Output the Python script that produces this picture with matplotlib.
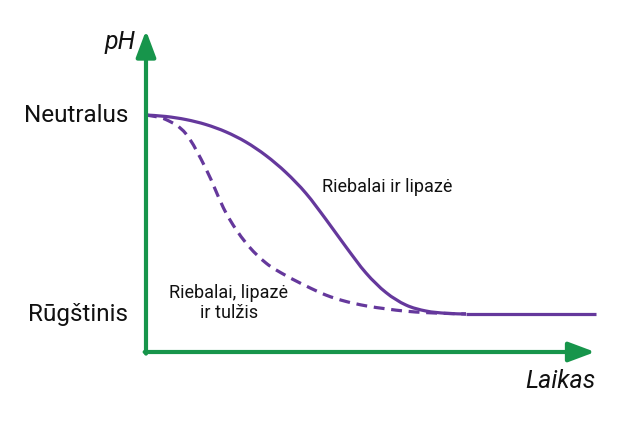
import matplotlib
matplotlib.use("Agg")
import matplotlib.pyplot as plt
from matplotlib.path import Path
from matplotlib.patches import PathPatch

plt.rcParams['font.family'] = ['Roboto', 'DejaVu Sans']

# laikas (sąlyginiai vienetai) ir pH (1 = neutralus, 0 = rūgštinis)
laikas = [0, 0.444, 0.889, 1.333, 1.778, 2.222, 2.667, 3.111, 3.556, 4.0, 4.444, 4.889, 5.333, 5.778, 6.222,
          6.667, 7.111]
ph_lipaze = [1.0, 0.9925, 0.977, 0.952, 0.915, 0.864, 0.796, 0.711, 0.606, 0.475, 0.337, 0.206, 0.108, 0.045,
             0.015, 0.0035, 0.0]
ph_tulzis = [1.0, 0.977, 0.905, 0.729, 0.508, 0.357, 0.256, 0.193, 0.141, 0.095, 0.063, 0.041, 0.026, 0.014,
             0.007, 0.003, 0.0]
laikas_pabaiga = 10  # rūgštinis lygis išlieka iki ašies galo

lygiai = [1, 0]
lygiu_pavadinimai = ["Neutralus", "Rūgštinis"]

zalia = "#17954b"
violetine = "#65389c"


def smooth_path(xs, ys):
    # Catmull-Rom per nuskaitytus taškus -> Bezier kreivė
    pts = list(zip(xs, ys))
    verts = [pts[0]]
    codes = [Path.MOVETO]
    n = len(pts)
    for i in range(n - 1):
        p0 = pts[max(i - 1, 0)]
        p1 = pts[i]
        p2 = pts[i + 1]
        p3 = pts[min(i + 2, n - 1)]
        c1 = (p1[0] + (p2[0] - p0[0]) / 6, p1[1] + (p2[1] - p0[1]) / 6)
        c2 = (p2[0] - (p3[0] - p1[0]) / 6, p2[1] - (p3[1] - p1[1]) / 6)
        verts += [c1, c2, p2]
        codes += [Path.CURVE4] * 3
    return Path(verts, codes)


fig = plt.figure(figsize=(6.31, 4.25), dpi=100)
ax = fig.add_axes([0, 0, 1, 1])
# 1 laiko vienetas = 45 px, 1 pH vienetas = 199 px
ax.set_xlim(-146 / 45, (631 - 146) / 45)
ax.set_ylim((314 - 425) / 199, 314 / 199)
ax.axis("off")

x0, y0 = 0, (314 - 352) / 199

# ašys su rodyklėmis
arrow = dict(arrowstyle="-|>,head_length=0.8,head_width=0.3", color=zalia, lw=3,
             shrinkA=0, shrinkB=0, mutation_scale=20)
ax.annotate("", xy=(x0, 1.425), xytext=(x0, y0 - 0.008), arrowprops=arrow)
ax.annotate("", xy=(9.98, y0), xytext=(x0 - 0.03, y0), arrowprops=arrow)

# kreivės
ax.add_patch(PathPatch(smooth_path(laikas, ph_lipaze), fill=False, edgecolor=violetine, lw=2.3,
                       capstyle="butt"))
ax.plot([laikas[-1], laikas_pabaiga], [ph_lipaze[-1], ph_lipaze[-1]], color=violetine, lw=2.3,
        solid_capstyle="butt")
ax.add_patch(PathPatch(smooth_path(laikas, ph_tulzis), fill=False, edgecolor=violetine, lw=2.3,
                       linestyle=(0, (3.4, 2.1)), capstyle="butt"))

for lvl, name in zip(lygiai, lygiu_pavadinimai):
    ax.text(-18 / 45, lvl, name, ha="right", va="center", fontsize=17.5, color="#111111")

ax.text(-0.24, 1.365, "pH", ha="right", va="center", fontsize=18, style="italic", color="#111111")
ax.text(10.0, y0 - 0.145, "Laikas", ha="right", va="center", fontsize=18, style="italic", color="#111111")

ax.text(3.9, 0.64, "Riebalai ir lipazė", ha="left", va="center", fontsize=13, color="#111111")
ax.text(1.84, 0.055, "Riebalai, lipazė\nir tulžis", ha="center", va="center", fontsize=13,
        color="#111111", linespacing=1.2)

fig.savefig("out.png", dpi=100, facecolor="white")
